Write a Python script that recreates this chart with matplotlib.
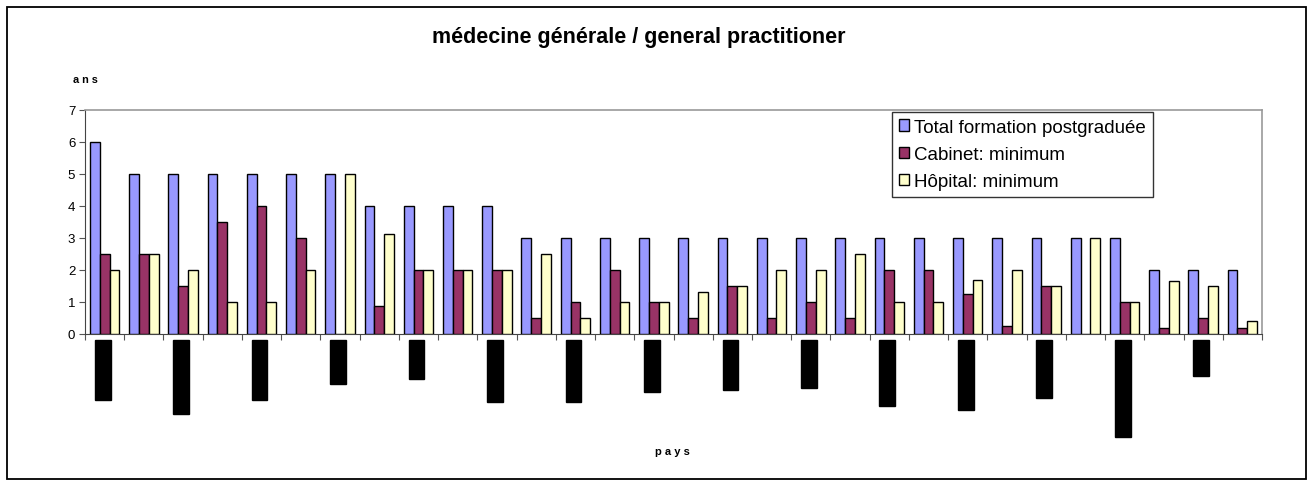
import numpy as np
import matplotlib
matplotlib.use("Agg")
import matplotlib.pyplot as plt
from matplotlib.patches import Rectangle
from matplotlib.transforms import blended_transform_factory

# ---------------- data ----------------
title = "médecine générale / general practitioner"
y_label = "ans"
x_label = "pays"
series_names = ["Total formation postgraduée", "Cabinet: minimum", "Hôpital: minimum"]

total = [6, 5, 5, 5, 5, 5, 5, 4, 4, 4, 4, 3, 3, 3, 3, 3, 3, 3, 3, 3, 3, 3, 3, 3, 3, 3, 3, 2, 2, 2]
cabinet = [2.5, 2.5, 1.5, 3.5, 4, 3, 0, 0.875, 2, 2, 2, 0.5, 1, 2, 1, 0.5, 1.5, 0.5, 1, 0.5,
           2, 2, 1.25, 0.25, 1.5, 0, 1, 0.2, 0.5, 0.2]
hopital = [2, 2.5, 2, 1, 1, 2, 5, 3.125, 2, 2, 2, 2.5, 0.5, 1, 1, 1.3, 1.5, 2, 2, 2.5,
           1, 1, 1.7, 2, 1.5, 3, 1, 1.65, 1.5, 0.4]
y_ticks = [0, 1, 2, 3, 4, 5, 6, 7]

# redacted (blacked-out) country labels: under every second group, length in px
redacted_len_px = [60, 74, 60, 44, 39, 62, 62, 52, 50, 48, 66, 70, 58, 97, 36]

# ---------------- style ----------------
colors = ["#9999FF", "#993366", "#FFFFCC"]
W, H = 1311, 485
fig = plt.figure(figsize=(W / 100, H / 100), dpi=100)
plt.rcParams["font.family"] = ["Liberation Sans", "DejaVu Sans"]

# outer chart frame
fig.patches.append(Rectangle((7 / W, 1 - 480 / H), (1306 - 7) / W, (480 - 8) / H,
                             transform=fig.transFigure, fill=False,
                             edgecolor="black", linewidth=1.3))

ax_left, ax_right, ax_top, ax_bot = 85, 1262, 111, 335
ax = fig.add_axes([ax_left / W, 1 - ax_bot / H, (ax_right - ax_left) / W, (ax_bot - ax_top) / H])

n = len(total)
x = np.arange(n)
bw = 0.25
for k, (vals, c, name) in enumerate(zip([total, cabinet, hopital], colors, series_names)):
    ax.bar(x + (k - 1) * bw, vals, width=bw, color=c, edgecolor="black",
           linewidth=1.0, label=name, zorder=3)

ax.set_xlim(-0.5, n - 0.5)
ax.set_ylim(0, 7)
ax.set_yticks(y_ticks)
ax.set_yticklabels([str(t) for t in y_ticks], fontsize=9.5)
ax.set_xticks(np.arange(n + 1) - 0.5)
ax.set_xticklabels([])
ax.tick_params(axis="x", direction="out", length=4, width=0.8, color="#555555")
ax.tick_params(axis="y", direction="out", length=4, width=0.8, color="#555555", pad=3)

for s in ["top", "right"]:
    ax.spines[s].set_color("#999999")
    ax.spines[s].set_linewidth(1.2)
ax.spines["left"].set_color("#444444")
ax.spines["bottom"].set_color("#444444")

# redacted labels as black boxes
tr = blended_transform_factory(ax.transData, fig.transFigure)
for j, L in enumerate(redacted_len_px):
    xc = x[2 * j] - 0.05
    top_px = 341
    ax.add_patch(Rectangle((xc - 0.2, 1 - (top_px + L) / H), 0.4, L / H,
                           transform=tr, facecolor="black", edgecolor="black",
                           clip_on=False, zorder=5))

# legend
leg = ax.legend(loc="upper left",
                bbox_to_anchor=((892 - ax_left) / (ax_right - ax_left), 1 - 2 / (ax_bot - ax_top)),
                fontsize=13.5, frameon=True, fancybox=False, edgecolor="black",
                handlelength=0.55, handleheight=0.55, handletextpad=0.3,
                labelspacing=0.55, borderpad=0.35, borderaxespad=0)
leg.get_frame().set_linewidth(1.0)

# titles
fig.text(639 / W, 1 - 38 / H, title, ha="center", va="center", fontsize=15.5, fontweight="bold")
fig.text(85 / W, 1 - 80 / H, "a n s", ha="center", va="center", fontsize=7.8, fontweight="bold")
fig.text(672 / W, 1 - 452 / H, "p a y s", ha="center", va="center", fontsize=8, fontweight="bold")

fig.savefig("out.png", dpi=100, facecolor="white")
